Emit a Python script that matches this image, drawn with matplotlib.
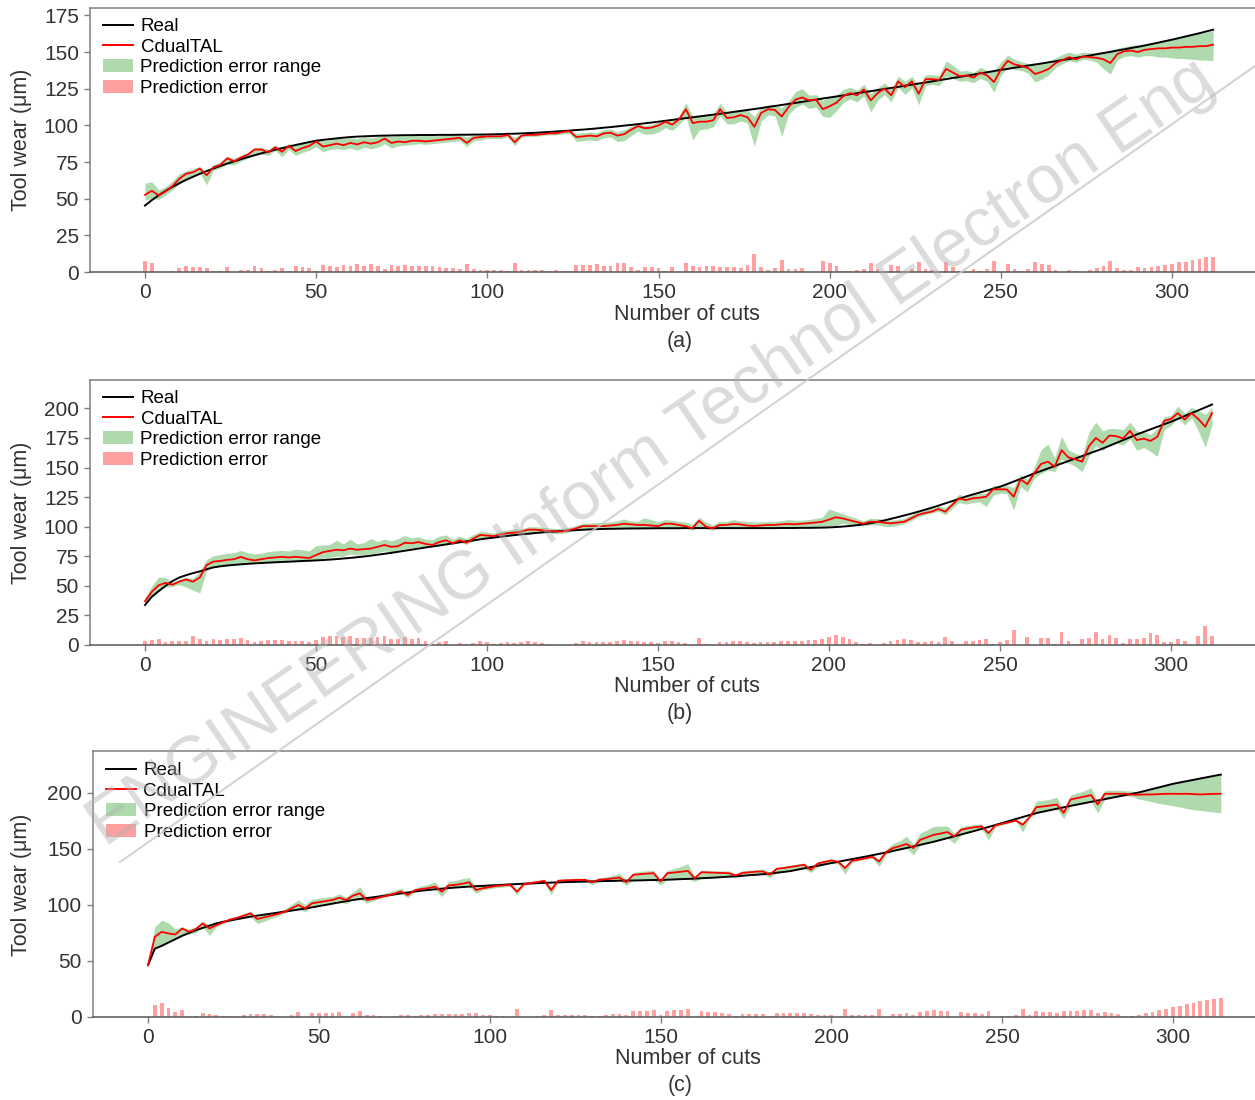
import numpy as np
import matplotlib
matplotlib.use('Agg')
import matplotlib.pyplot as plt
from matplotlib.lines import Line2D
from matplotlib.patches import Patch

plt.rcParams['font.family'] = ['Liberation Sans', 'DejaVu Sans']

# ---------------- data (values read every 2 cuts) ----------------
cuts_a = np.arange(0, 313, 2)
cuts_b = np.arange(0, 313, 2)
cuts_c = np.arange(0, 315, 2)

real_a = [
    45.3, 49.0, 52.3, 55.3, 58.0, 60.5, 62.8, 64.9, 66.9, 68.8,
    70.6, 72.3, 73.9, 75.4, 76.9, 78.3, 79.6, 80.9, 82.1, 83.3,
    84.4, 85.5, 86.6, 87.6, 88.6, 89.5, 90.1, 90.6, 91.1, 91.6,
    92.0, 92.3, 92.5, 92.7, 92.9, 93.0, 93.1, 93.2, 93.3, 93.3,
    93.4, 93.4, 93.4, 93.5, 93.5, 93.5, 93.6, 93.6, 93.7, 93.7,
    93.8, 93.9, 94.0, 94.2, 94.3, 94.5, 94.7, 94.9, 95.2, 95.5,
    95.8, 96.1, 96.4, 96.8, 97.1, 97.5, 97.9, 98.4, 98.8, 99.3,
    99.8, 100.3, 100.8, 101.4, 101.9, 102.5, 103.1, 103.7, 104.3, 104.9,
    105.5, 106.1, 106.7, 107.3, 107.9, 108.5, 109.2, 109.8, 110.5, 111.1,
    111.8, 112.5, 113.2, 113.9, 114.6, 115.3, 116.0, 116.8, 117.5, 118.3,
    119.0, 119.7, 120.4, 121.2, 121.9, 122.6, 123.3, 124.0, 124.8, 125.5,
    126.2, 127.0, 127.7, 128.5, 129.2, 130.0, 130.8, 131.5, 132.3, 133.0,
    133.8, 134.6, 135.4, 136.2, 137.0, 137.8, 138.5, 139.3, 140.0, 140.8,
    141.5, 142.2, 143.0, 143.7, 144.5, 145.2, 146.0, 146.8, 147.6, 148.5,
    149.3, 150.1, 151.0, 151.8, 152.7, 153.5, 154.4, 155.4, 156.4, 157.4,
    158.4, 159.5, 160.6, 161.7, 162.8, 164.0, 165.2]
pred_a = [
    52.6, 55.4, 52.2, 55.0, 58.5, 63.5, 67.0, 68.0, 70.5, 66.0,
    71.5, 73.0, 77.5, 75.5, 78.0, 80.0, 83.5, 83.5, 81.5, 85.0,
    82.0, 86.0, 82.5, 84.5, 86.0, 89.0, 85.5, 86.5, 87.5, 86.5,
    88.0, 87.0, 88.5, 87.5, 88.5, 91.0, 88.0, 89.0, 88.5, 89.5,
    89.5, 89.0, 89.5, 90.0, 90.5, 91.0, 91.5, 88.0, 91.5, 92.0,
    92.5, 92.5, 92.5, 93.5, 88.5, 93.0, 93.5, 93.5, 94.0, 94.5,
    94.5, 95.5, 96.0, 92.0, 92.5, 93.0, 92.5, 94.5, 95.0, 93.0,
    94.0, 97.0, 99.5, 98.0, 98.5, 100.0, 102.5, 100.5, 104.0, 111.0,
    101.5, 102.5, 102.5, 103.5, 111.0, 105.0, 105.5, 107.0, 105.5, 99.0,
    108.5, 111.0, 110.5, 106.0, 112.5, 117.5, 119.0, 117.0, 117.5, 111.0,
    113.0, 115.5, 120.0, 122.0, 120.5, 124.5, 117.0, 122.0, 125.0, 120.5,
    130.0, 126.0, 130.0, 121.5, 131.5, 131.5, 131.0, 138.5, 136.0, 133.5,
    134.0, 132.5, 136.0, 134.0, 129.5, 138.0, 144.0, 141.5, 140.5, 139.0,
    135.0, 136.5, 138.5, 142.5, 144.5, 146.5, 145.0, 147.0, 146.5, 146.0,
    145.0, 142.5, 148.5, 150.5, 151.0, 150.0, 151.5, 152.0, 152.5, 152.5,
    153.0, 153.0, 153.5, 153.5, 154.0, 154.0, 155.0]
lo_a = [
    49.0, 50.0, 49.5, 52.5, 56.0, 60.0, 63.5, 65.0, 67.5, 59.5,
    69.5, 71.0, 73.5, 73.0, 75.5, 77.5, 79.5, 80.5, 79.5, 83.0,
    78.5, 83.5, 79.5, 81.5, 83.0, 85.5, 82.0, 83.5, 84.0, 83.5,
    84.5, 83.0, 85.0, 84.0, 85.0, 87.5, 84.5, 86.0, 86.5, 87.0,
    87.5, 87.0, 87.5, 88.0, 88.5, 89.0, 89.5, 85.5, 89.5, 90.0,
    91.0, 91.0, 91.0, 92.0, 86.0, 92.0, 92.5, 92.5, 93.0, 93.5,
    93.5, 94.0, 94.5, 89.0, 89.5, 90.0, 89.5, 91.5, 92.0, 89.0,
    89.5, 93.0, 96.0, 94.0, 94.0, 95.5, 98.5, 96.5, 100.5, 106.0,
    90.0, 97.0, 97.5, 99.0, 106.5, 101.0, 101.0, 103.0, 101.5, 85.5,
    103.0, 107.0, 106.5, 92.5, 107.5, 112.0, 114.5, 111.5, 112.5, 106.0,
    105.5, 110.0, 115.5, 118.0, 116.0, 120.0, 109.0, 117.0, 121.0, 116.0,
    126.0, 121.0, 125.5, 114.0, 127.0, 128.0, 127.0, 133.5, 132.0, 130.0,
    130.5, 129.0, 132.0, 130.0, 122.5, 134.0, 140.0, 138.0, 137.5, 135.5,
    129.5, 131.5, 134.5, 139.5, 142.0, 144.0, 143.0, 145.0, 144.5, 143.0,
    138.5, 135.0, 144.5, 147.0, 147.5, 146.5, 147.5, 147.5, 146.5, 146.5,
    146.0, 145.5, 145.5, 145.0, 144.5, 144.5, 144.0]
hi_a = [
    60.5, 61.5, 56.0, 58.0, 62.0, 67.0, 69.0, 70.0, 72.0, 67.5,
    73.0, 75.0, 79.0, 77.5, 79.5, 81.5, 85.0, 85.0, 83.5, 86.5,
    85.0, 87.5, 86.5, 87.5, 88.5, 91.0, 89.5, 90.0, 91.0, 91.0,
    91.5, 91.0, 92.0, 91.5, 92.5, 93.0, 92.5, 93.0, 93.0, 93.0,
    93.0, 93.0, 93.0, 93.0, 93.5, 93.5, 93.5, 92.0, 93.5, 93.5,
    93.5, 93.5, 93.5, 94.0, 92.0, 94.0, 94.5, 94.5, 95.0, 95.5,
    95.5, 96.5, 97.0, 94.5, 95.0, 95.5, 95.0, 97.0, 97.5, 95.5,
    97.0, 99.5, 101.0, 100.0, 100.5, 102.5, 104.0, 103.0, 106.5, 115.5,
    106.0, 106.5, 107.0, 108.0, 115.0, 109.0, 109.5, 111.0, 110.5, 106.0,
    112.5, 114.0, 114.0, 112.0, 116.5, 123.0, 125.0, 120.5, 121.0, 117.0,
    119.5, 120.5, 124.5, 126.0, 124.0, 128.0, 121.5, 125.5, 129.0, 124.5,
    133.5, 130.0, 133.5, 127.0, 134.5, 134.5, 134.0, 144.0, 141.0, 137.0,
    137.5, 136.0, 139.5, 137.5, 137.0, 143.0, 148.0, 145.0, 143.5, 142.0,
    141.5, 142.5, 143.5, 146.0, 148.5, 150.0, 148.5, 150.0, 149.5, 149.0,
    150.0, 151.0, 152.5, 153.5, 154.5, 155.0, 155.5, 156.0, 156.5, 157.5,
    158.5, 159.5, 160.5, 161.5, 162.5, 163.5, 164.5]

real_b = [
    33.8, 40.8, 45.5, 50.0, 54.0, 57.0, 59.0, 60.7, 62.2, 64.0,
    65.6, 66.5, 67.2, 67.7, 68.2, 68.6, 69.0, 69.3, 69.6, 69.9,
    70.2, 70.4, 70.7, 71.0, 71.2, 71.5, 71.8, 72.2, 72.6, 73.1,
    73.6, 74.2, 74.8, 75.5, 76.3, 77.1, 77.9, 78.8, 79.7, 80.6,
    81.5, 82.4, 83.3, 84.1, 85.0, 85.9, 86.8, 87.6, 88.4, 89.3,
    90.1, 90.8, 91.5, 92.2, 92.9, 93.5, 94.0, 94.6, 95.1, 95.6,
    96.0, 96.4, 96.8, 97.1, 97.4, 97.7, 97.9, 98.1, 98.2, 98.3,
    98.4, 98.5, 98.5, 98.6, 98.6, 98.7, 98.7, 98.7, 98.7, 98.8,
    98.8, 98.8, 98.8, 98.8, 98.8, 98.8, 98.8, 98.8, 98.8, 98.8,
    98.8, 98.8, 98.8, 98.9, 98.9, 98.9, 99.0, 99.0, 99.1, 99.2,
    99.4, 99.7, 100.1, 100.6, 101.2, 102.0, 102.9, 104.0, 105.2, 106.6,
    108.0, 109.5, 111.0, 112.6, 114.3, 116.0, 117.8, 119.7, 121.6, 123.5,
    125.5, 127.2, 128.8, 130.4, 132.1, 133.8, 135.9, 138.1, 140.4, 142.7,
    145.0, 147.1, 149.2, 151.3, 153.4, 155.5, 157.6, 159.7, 161.8, 163.9,
    166.0, 168.4, 170.8, 173.2, 175.6, 178.0, 180.1, 182.3, 184.4, 186.6,
    188.7, 191.1, 193.5, 195.9, 198.3, 200.8, 203.3]
pred_b = [
    37.0, 45.0, 50.5, 52.5, 51.0, 53.5, 55.5, 53.5, 57.0, 67.5,
    70.5, 71.0, 72.0, 72.5, 74.5, 72.5, 71.5, 72.5, 73.5, 74.0,
    74.5, 74.0, 74.5, 74.0, 73.5, 76.0, 78.5, 79.5, 80.5, 80.0,
    81.5, 80.5, 81.0, 81.5, 83.0, 84.5, 83.0, 83.5, 86.5, 86.0,
    87.0, 85.5, 84.5, 87.0, 88.5, 86.0, 88.5, 86.5, 90.0, 93.0,
    92.5, 92.0, 93.5, 94.5, 95.0, 95.8, 97.5, 97.5, 97.0, 96.5,
    96.0, 96.0, 97.0, 98.5, 100.5, 100.5, 100.5, 100.5, 101.0, 101.5,
    102.5, 102.0, 101.5, 101.5, 101.0, 100.5, 102.5, 102.5, 101.5, 100.5,
    98.6, 105.0, 100.0, 98.6, 101.4, 101.5, 102.3, 102.0, 101.0, 100.6,
    101.0, 101.5, 101.5, 102.0, 102.3, 102.0, 102.5, 103.0, 103.5, 104.2,
    106.0, 108.0, 107.0, 105.5, 104.0, 102.5, 104.2, 104.2, 103.5, 102.8,
    103.5, 104.2, 107.0, 110.0, 111.5, 112.7, 115.0, 112.7, 118.3, 124.0,
    122.5, 124.0, 124.5, 125.4, 131.6, 131.6, 131.5, 125.4, 140.0, 136.0,
    145.0, 153.0, 155.0, 150.6, 164.7, 158.5, 157.0, 155.0, 168.0, 175.0,
    171.0, 177.0, 176.5, 174.5, 181.0, 173.2, 174.5, 172.5, 176.0, 189.5,
    191.0, 196.0, 190.5, 196.0, 191.0, 184.5, 196.0]
lo_b = [
    35.0, 40.5, 47.0, 49.0, 49.5, 51.0, 49.0, 46.5, 44.0, 63.0,
    66.5, 67.0, 68.0, 68.5, 69.0, 69.0, 69.5, 69.5, 70.0, 70.5,
    71.0, 71.0, 71.5, 71.5, 71.5, 72.0, 73.5, 74.0, 75.0, 75.0,
    77.0, 76.0, 76.5, 77.0, 78.0, 79.5, 79.0, 80.0, 81.5, 82.0,
    83.0, 82.5, 83.0, 84.5, 86.0, 85.0, 87.0, 85.0, 88.0, 90.0,
    90.0, 90.5, 91.5, 92.5, 93.0, 93.5, 94.0, 94.5, 95.0, 95.0,
    94.0, 94.5, 95.5, 97.0, 98.0, 98.0, 98.5, 98.5, 98.5, 98.5,
    99.0, 99.0, 99.0, 99.0, 99.0, 99.0, 99.0, 99.0, 99.0, 99.0,
    97.0, 100.0, 98.5, 97.0, 99.0, 99.0, 99.0, 99.0, 99.0, 99.0,
    99.0, 99.0, 99.0, 99.0, 99.0, 99.0, 99.5, 99.5, 99.5, 100.0,
    100.5, 101.0, 103.0, 101.5, 101.5, 100.5, 101.5, 101.5, 100.5, 100.0,
    101.0, 102.5, 105.0, 108.0, 110.0, 111.5, 113.0, 110.0, 115.5, 120.5,
    119.0, 120.5, 121.0, 117.0, 126.5, 128.5, 128.0, 114.0, 134.0, 129.5,
    141.0, 145.0, 148.0, 146.5, 157.0, 154.0, 151.0, 146.5, 159.5, 168.5,
    164.5, 170.0, 170.5, 169.0, 174.0, 164.5, 167.0, 163.5, 159.5, 182.0,
    185.5, 192.0, 186.0, 192.0, 181.0, 167.0, 186.0]
hi_b = [
    40.0, 50.0, 57.5, 57.0, 53.0, 55.5, 57.0, 56.5, 62.0, 72.0,
    75.5, 76.5, 77.5, 78.0, 80.0, 78.0, 77.0, 77.5, 79.0, 79.5,
    80.0, 79.5, 81.0, 80.5, 79.5, 84.0, 84.5, 85.0, 88.5, 85.5,
    89.5, 85.5, 86.5, 90.0, 87.5, 89.5, 88.0, 90.0, 92.5, 90.5,
    91.5, 89.5, 89.0, 92.0, 93.0, 89.5, 92.0, 90.0, 93.5, 96.0,
    95.5, 94.5, 96.5, 97.0, 98.5, 98.0, 100.0, 100.0, 99.5, 99.0,
    98.5, 98.5, 99.5, 101.0, 103.0, 103.0, 103.5, 103.5, 104.0, 105.0,
    106.5, 105.0, 104.5, 107.5, 106.0, 104.0, 106.0, 105.5, 104.5, 104.0,
    102.0, 108.0, 104.0, 101.5, 104.5, 104.5, 106.0, 105.0, 104.5, 104.0,
    104.0, 104.5, 104.5, 105.0, 106.0, 105.5, 105.5, 106.0, 107.0, 108.0,
    115.0, 113.0, 111.0, 109.0, 107.0, 105.0, 107.0, 107.0, 106.0, 105.5,
    106.0, 107.0, 110.0, 112.5, 114.0, 116.0, 118.0, 116.0, 121.0, 127.5,
    125.5, 127.0, 128.0, 128.5, 135.0, 134.0, 135.0, 133.0, 144.0, 140.0,
    150.0, 165.0, 170.0, 158.0, 176.5, 165.0, 162.0, 160.0, 180.0, 188.5,
    181.0, 183.0, 183.0, 182.0, 188.5, 181.0, 180.0, 178.0, 183.0, 193.0,
    194.0, 202.0, 196.0, 201.0, 198.0, 195.0, 201.0]

real_c = [
    46.3, 61.0, 63.5, 66.5, 69.5, 72.5, 75.0, 77.5, 79.5, 81.5,
    83.6, 85.0, 86.2, 87.4, 88.5, 89.6, 90.5, 91.4, 92.3, 93.2,
    94.0, 94.9, 95.8, 96.8, 97.9, 99.1, 100.2, 101.3, 102.4, 103.5,
    104.5, 105.3, 106.1, 106.9, 107.7, 108.5, 109.4, 110.3, 111.2, 112.0,
    112.8, 113.4, 114.0, 114.6, 115.1, 115.6, 116.0, 116.4, 116.8, 117.1,
    117.4, 117.7, 118.0, 118.4, 118.7, 119.0, 119.3, 119.5, 119.8, 120.0,
    120.2, 120.4, 120.6, 120.8, 120.9, 121.1, 121.2, 121.4, 121.5, 121.7,
    121.8, 121.9, 122.0, 122.2, 122.3, 122.4, 122.6, 122.8, 123.1, 123.3,
    123.6, 123.9, 124.2, 124.5, 124.9, 125.3, 125.7, 126.1, 126.6, 127.0,
    127.5, 128.1, 128.8, 129.5, 130.3, 131.5, 132.6, 133.8, 135.0, 136.3,
    137.6, 138.7, 139.8, 140.9, 142.0, 143.2, 144.4, 145.7, 146.9, 148.2,
    149.5, 150.9, 152.3, 153.7, 155.1, 156.5, 158.1, 159.7, 161.3, 162.9,
    164.5, 166.2, 167.9, 169.7, 171.4, 173.2, 175.0, 176.8, 178.5, 180.3,
    182.1, 183.4, 184.7, 186.0, 187.2, 188.5, 189.7, 190.9, 192.1, 193.3,
    194.5, 195.7, 196.9, 198.1, 199.3, 200.5, 202.0, 203.6, 205.1, 206.7,
    208.2, 209.4, 210.6, 211.8, 213.0, 214.2, 215.3, 216.4]
pred_c = [
    46.3, 71.6, 76.0, 74.6, 73.7, 79.0, 76.0, 78.5, 83.5, 79.0,
    82.0, 84.5, 87.0, 88.5, 90.5, 92.5, 87.5, 89.0, 90.5, 92.0,
    94.0, 97.0, 100.0, 97.0, 101.5, 102.5, 103.5, 104.5, 106.5, 104.5,
    108.4, 110.4, 104.5, 105.4, 107.0, 108.4, 110.0, 112.0, 109.0, 113.0,
    114.3, 115.0, 116.4, 111.9, 117.5, 118.0, 119.0, 120.3, 113.4, 115.0,
    116.0, 117.0, 117.5, 118.0, 111.9, 118.6, 119.5, 120.5, 121.5, 113.4,
    121.6, 122.0, 122.2, 122.4, 122.4, 120.3, 122.5, 123.0, 123.8, 124.5,
    120.3, 126.9, 127.5, 128.0, 128.4, 121.0, 128.4, 129.0, 129.7, 130.5,
    123.9, 129.3, 129.0, 128.8, 128.6, 128.4, 126.3, 128.7, 129.2, 129.8,
    130.0, 127.0, 132.3, 133.0, 134.0, 135.0, 135.9, 131.4, 137.0, 138.5,
    139.8, 138.5, 133.0, 139.5, 140.5, 141.8, 143.0, 138.8, 147.2, 150.8,
    152.5, 154.5, 150.8, 158.2, 160.5, 162.7, 163.8, 165.1, 161.2, 167.2,
    168.5, 169.5, 170.2, 164.2, 171.1, 172.5, 174.0, 175.3, 171.7, 178.3,
    187.3, 188.0, 188.8, 189.7, 182.2, 194.2, 195.5, 196.8, 198.1, 189.7,
    199.3, 199.3, 199.3, 199.3, 198.5, 198.5, 198.7, 198.7, 199.0, 199.3,
    199.3, 199.2, 199.3, 199.0, 198.7, 199.0, 199.2, 199.3]
lo_c = [
    46.3, 62.0, 64.0, 67.5, 69.5, 73.0, 74.0, 75.5, 80.0, 73.0,
    80.5, 83.5, 85.5, 87.0, 88.0, 89.5, 83.5, 85.5, 88.0, 90.0,
    93.0, 95.0, 97.0, 94.0, 99.0, 99.5, 100.5, 101.5, 103.0, 101.0,
    104.8, 105.5, 101.5, 104.0, 106.0, 107.5, 109.0, 110.5, 106.5, 111.5,
    112.8, 113.4, 114.0, 107.5, 115.0, 115.5, 116.0, 116.5, 110.4, 113.5,
    114.5, 115.5, 116.0, 117.0, 109.0, 117.5, 118.5, 119.5, 120.0, 109.0,
    120.0, 120.5, 120.6, 120.8, 120.9, 118.0, 121.2, 121.4, 121.5, 121.7,
    117.5, 121.9, 122.0, 122.2, 122.3, 118.0, 122.6, 122.8, 123.1, 123.3,
    121.0, 124.0, 124.2, 124.5, 124.9, 125.3, 124.0, 125.5, 126.6, 127.0,
    127.5, 124.5, 128.8, 129.5, 130.3, 131.5, 132.6, 129.0, 134.0, 136.0,
    137.6, 136.5, 127.5, 138.0, 139.5, 141.0, 142.0, 134.3, 145.0, 148.2,
    149.5, 150.9, 145.0, 153.5, 155.1, 156.5, 158.1, 159.7, 155.0, 162.9,
    164.5, 166.2, 167.9, 158.2, 169.7, 171.4, 173.0, 175.0, 165.1, 177.5,
    182.1, 183.4, 184.7, 186.0, 177.1, 188.5, 189.7, 190.9, 192.1, 182.2,
    194.5, 195.7, 196.9, 197.5, 197.0, 194.5, 193.5, 192.0, 190.5, 189.7,
    188.5, 187.5, 186.1, 185.0, 184.5, 183.7, 183.0, 182.2]
hi_c = [
    47.0, 80.5, 86.5, 84.0, 78.5, 80.5, 78.5, 80.5, 85.5, 82.5,
    84.0, 86.0, 88.5, 90.0, 92.0, 94.5, 89.5, 91.5, 93.0, 94.0,
    96.0, 100.5, 104.5, 100.5, 105.0, 106.0, 107.0, 107.5, 110.0, 107.0,
    111.5, 116.4, 107.0, 107.5, 109.5, 111.0, 113.0, 115.0, 111.0, 115.0,
    117.0, 118.5, 120.9, 114.0, 121.0, 122.0, 123.5, 124.5, 116.0, 118.0,
    118.5, 119.0, 119.5, 120.0, 114.0, 120.0, 121.0, 122.0, 123.0, 116.0,
    123.0, 123.5, 123.8, 124.0, 124.0, 122.0, 124.5, 125.0, 126.5, 128.4,
    122.5, 129.0, 130.0, 130.5, 131.0, 123.0, 131.0, 132.5, 134.5, 136.8,
    125.5, 131.0, 130.8, 130.6, 130.5, 130.5, 128.0, 130.5, 131.0, 131.5,
    132.0, 129.0, 133.5, 134.5, 135.5, 136.5, 137.5, 133.0, 138.5, 140.0,
    141.0, 140.0, 135.0, 141.0, 142.0, 143.0, 145.5, 140.5, 149.5, 155.0,
    157.0, 161.5, 154.0, 164.2, 167.0, 170.2, 170.5, 170.5, 164.0, 170.0,
    171.0, 172.0, 172.3, 166.0, 173.0, 174.5, 175.5, 176.8, 173.5, 180.5,
    192.7, 193.5, 194.5, 196.3, 185.0, 198.0, 200.0, 202.0, 204.7, 192.0,
    202.0, 202.5, 202.5, 202.0, 201.7, 200.5, 202.0, 203.6, 205.1, 206.7,
    208.2, 209.4, 210.6, 211.8, 213.0, 214.2, 215.3, 216.4]

x_ticks = [0, 50, 100, 150, 200, 250, 300]
y_ticks_a = [0, 25, 50, 75, 100, 125, 150, 175]
y_ticks_b = [0, 25, 50, 75, 100, 125, 150, 175, 200]
y_ticks_c = [0, 50, 100, 150, 200]
legend_labels = ['Real', 'CdualTAL', 'Prediction error range', 'Prediction error']
panel_tags = ['(a)', '(b)', '(c)']

# ---------------- styling ----------------
W, H = 1255, 1100
GREEN = '#2ca02c'
GREEN_A = 0.38
PINK = '#ff8f8f'
SPINE = '#7f7f7f'
TXT = '#333333'

fig = plt.figure(figsize=(W / 100, H / 100), dpi=100)

panels = [
    dict(c=cuts_a, r=real_a, p=pred_a, lo=lo_a, hi=hi_a, left=90, top=8, bottom=272,
         x0=145, x300=1172, ymax=180, yt=y_ticks_a, tag=panel_tags[0],
         xl=(687, 314), tg=(680, 341), yl=(22, 140), leg=(103, 18)),
    dict(c=cuts_b, r=real_b, p=pred_b, lo=lo_b, hi=hi_b, left=90, top=380, bottom=645,
         x0=145, x300=1171, ymax=224, yt=y_ticks_b, tag=panel_tags[1],
         xl=(687, 686), tg=(680, 714), yl=(22, 513), leg=(103, 390)),
    dict(c=cuts_c, r=real_c, p=pred_c, lo=lo_c, hi=hi_c, left=93, top=751, bottom=1017,
         x0=148, x300=1173, ymax=237.5, yt=y_ticks_c, tag=panel_tags[2],
         xl=(688, 1058), tg=(680, 1085), yl=(22, 885), leg=(106, 762)),
]

for P in panels:
    ax = fig.add_axes([P['left'] / W, 1 - P['bottom'] / H,
                       1 - P['left'] / W, (P['bottom'] - P['top']) / H])
    c = np.asarray(P['c'])
    r = np.asarray(P['r'])
    p = np.asarray(P['p'])
    err = np.abs(p - r)
    ax.bar(c, err, width=1.1, color=PINK, alpha=0.85, linewidth=0, zorder=1)
    ax.fill_between(c, P['lo'], P['hi'], color=GREEN, alpha=GREEN_A, linewidth=0, zorder=2)
    ax.plot(c, r, color='black', lw=1.4, zorder=3)
    ax.plot(c, p, color='#ff0000', lw=1.3, zorder=4)

    scale = (P['x300'] - P['x0']) / 300.0
    ax.set_xlim((P['left'] - P['x0']) / scale, (W - P['x0']) / scale)
    ax.set_ylim(0, P['ymax'])
    ax.set_xticks(x_ticks)
    ax.set_yticks(P['yt'])
    ax.tick_params(direction='out', length=4, width=1, color=SPINE,
                   labelcolor=TXT, labelsize=15, pad=4)
    for s in ['left', 'top', 'bottom']:
        ax.spines[s].set_color(SPINE)
        ax.spines[s].set_linewidth(1.1)
    ax.spines['bottom'].set_color('#555555')
    ax.spines['right'].set_visible(False)

    handles = [Line2D([], [], color='black', lw=1.4),
               Line2D([], [], color='#ff0000', lw=1.4),
               Patch(facecolor=GREEN, alpha=GREEN_A, linewidth=0),
               Patch(facecolor=PINK, alpha=0.85, linewidth=0)]
    ax.legend(handles, legend_labels, loc='upper left',
              bbox_to_anchor=(P['leg'][0] / W, 1 - P['leg'][1] / H),
              bbox_transform=fig.transFigure, frameon=False, fontsize=13.5,
              handlelength=1.6, handleheight=0.7, handletextpad=0.4,
              labelspacing=0.18, borderaxespad=0, borderpad=0)

    fig.text(P['xl'][0] / W, 1 - P['xl'][1] / H, 'Number of cuts', ha='center',
             va='center', fontsize=15.5, color=TXT)
    fig.text(P['tg'][0] / W, 1 - P['tg'][1] / H, P['tag'], ha='center',
             va='center', fontsize=15.5, color=TXT)
    fig.text(P['yl'][0] / W, 1 - P['yl'][1] / H, 'Tool wear (μm)', ha='center',
             va='center', rotation=90, fontsize=15.5, color=TXT)

# watermark
fig.text(105 / W, 1 - 847 / H, 'ENGINEERING Inform Technol Electron Eng',
         rotation=34.3, rotation_mode='anchor', ha='left', va='baseline',
         fontsize=49, color='#b0b0b0', alpha=0.45, zorder=20)
fig.add_artist(Line2D([120 / W, 1.0], [1 - 862 / H, 1 - 66 / H],
                      transform=fig.transFigure, color='#c8c8c8', lw=1.5,
                      alpha=0.8, zorder=20))

fig.savefig('out.png', dpi=100)
